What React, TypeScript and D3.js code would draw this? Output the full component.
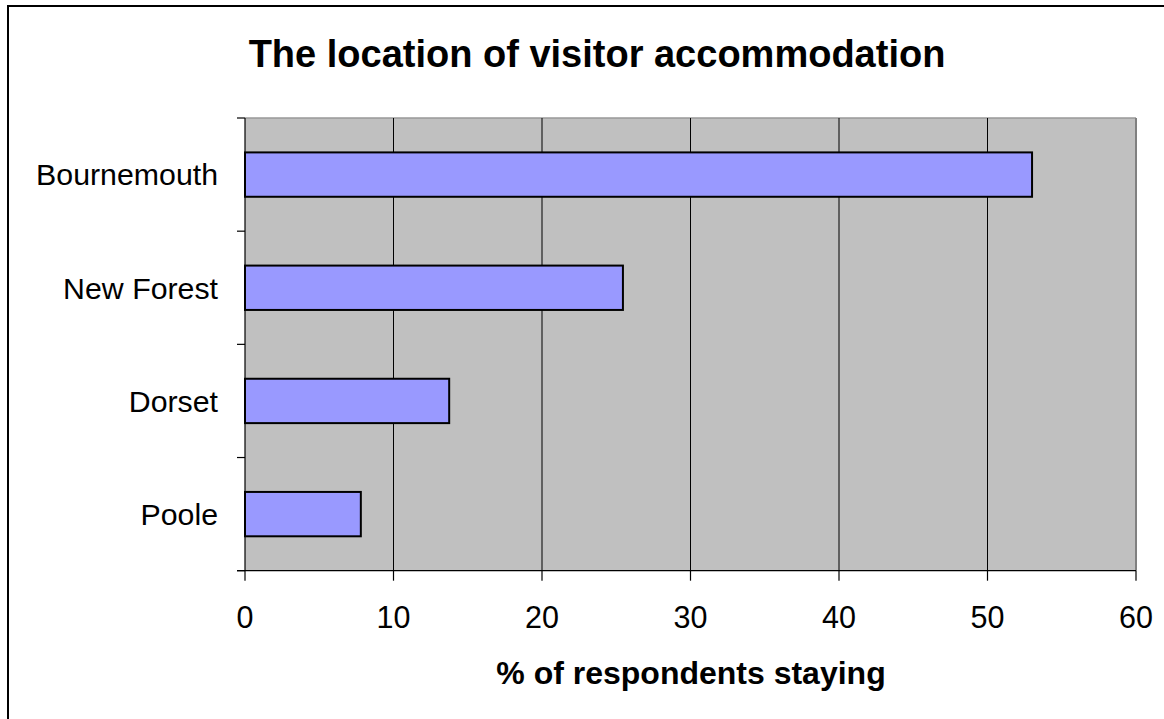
import React from "react";
import * as d3 from "d3";

const categories = ["Bournemouth", "New Forest", "Dorset", "Poole"];
const values = [53.0, 25.45, 13.75, 7.8];
const xTicks = [0, 10, 20, 30, 40, 50, 60];
const title = "The location of visitor accommodation";
const xTitle = "% of respondents staying";

export default function App() {
  const W = 1164;
  const H = 719;
  const left = 245;
  const right = 1136;
  const top = 118;
  const bottom = 570.7;

  const x = d3.scaleLinear().domain([0, 60]).range([left, right]);
  const y = d3
    .scaleBand<string>()
    .domain(categories)
    .range([top, bottom])
    .paddingInner(0.608)
    .paddingOuter(0.304);

  const step = (bottom - top) / categories.length;
  const catBounds = d3.range(categories.length + 1).map((i) => top + i * step);
  const font = "Arial, 'Liberation Sans', sans-serif";

  return (
    <svg
      width={W}
      height={H}
      style={{ position: "absolute", left: 0, top: 0, display: "block", background: "#fff" }}
    >
      <rect x={8} y={6} width={1200} height={800} fill="#fff" stroke="#000" strokeWidth={2} />
      <text
        x={597}
        y={67}
        textAnchor="middle"
        fontFamily={font}
        fontWeight="bold"
        fontSize={38}
        fill="#000"
      >
        {title}
      </text>
      {/* plot area */}
      <rect x={left} y={top} width={right - left} height={bottom - top} fill="#C0C0C0" />
      <line x1={left} x2={right} y1={top} y2={top} stroke="#999" strokeWidth={1.5} />
      <line x1={right} x2={right} y1={top} y2={bottom} stroke="#808080" strokeWidth={2} />
      {/* gridlines */}
      {xTicks
        .filter((t) => t > 0 && t < 60)
        .map((t) => (
          <line key={"g" + t} x1={x(t)} x2={x(t)} y1={top} y2={bottom} stroke="#000" strokeWidth={1} />
        ))}
      {/* bars */}
      {categories.map((c, i) => (
        <rect
          key={c}
          x={x(0)}
          y={y(c)}
          width={x(values[i]) - x(0)}
          height={y.bandwidth()}
          fill="#9999FF"
          stroke="#000"
          strokeWidth={2}
        />
      ))}
      {/* axes */}
      <line x1={left} x2={left} y1={top} y2={bottom} stroke="#000" strokeWidth={1.2} />
      <line x1={left - 8} x2={right} y1={bottom} y2={bottom} stroke="#000" strokeWidth={1.2} />
      {catBounds.map((b, i) => (
        <line key={"yt" + i} x1={left - 8} x2={left} y1={b} y2={b} stroke="#000" strokeWidth={1.2} />
      ))}
      {xTicks.map((t) => (
        <line key={"xt" + t} x1={x(t)} x2={x(t)} y1={bottom} y2={bottom + 10} stroke="#000" strokeWidth={1.2} />
      ))}
      {xTicks.map((t) => (
        <text
          key={"xl" + t}
          x={x(t)}
          y={628}
          textAnchor="middle"
          fontFamily={font}
          fontSize={30.5}
          fill="#000"
        >
          {t}
        </text>
      ))}
      {categories.map((c) => (
        <text
          key={"yl" + c}
          x={218}
          y={(y(c) as number) + y.bandwidth() / 2 + 10.8}
          textAnchor="end"
          fontFamily={font}
          fontSize={30.3}
          fill="#000"
        >
          {c}
        </text>
      ))}
      <text
        x={691}
        y={684}
        textAnchor="middle"
        fontFamily={font}
        fontWeight="bold"
        fontSize={32}
        fill="#000"
      >
        {xTitle}
      </text>
    </svg>
  );
}
